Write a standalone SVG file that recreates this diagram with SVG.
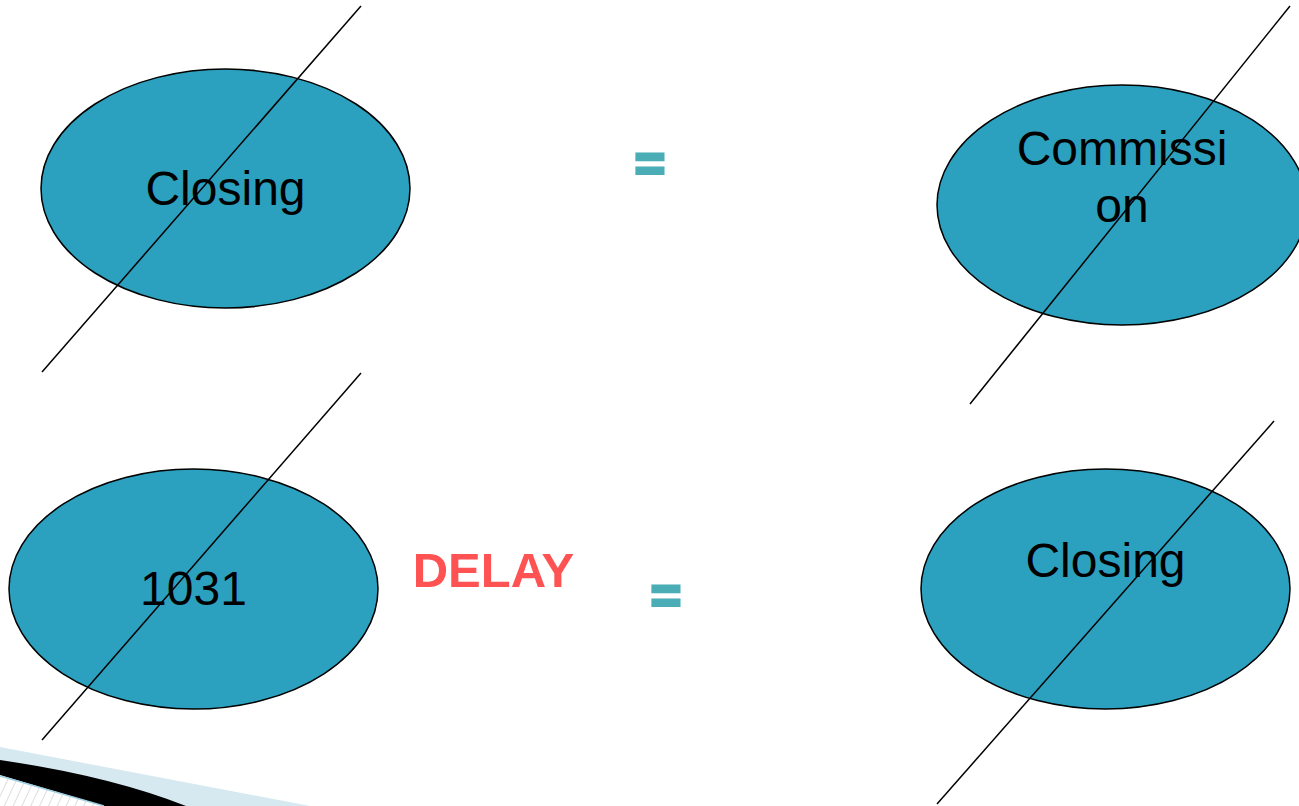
<svg xmlns="http://www.w3.org/2000/svg" width="1299" height="806" viewBox="0 0 1299 806">
<defs>
<style>
.node{fill:#2CA1BF;stroke:#000;stroke-width:1.5}
.lbl{font-family:"Liberation Sans",Arial,sans-serif;font-size:48px;fill:#000;text-anchor:middle}
.eq{font-family:"Liberation Sans",Arial,sans-serif;font-weight:bold;font-size:52px;fill:#4BADB6;stroke:#4BADB6;stroke-width:3;text-anchor:middle}
.slash{stroke:#000;stroke-width:1.5;fill:none}
</style>
<pattern id="hatch" width="8" height="8" patternUnits="userSpaceOnUse" patternTransform="rotate(25)">
<rect width="8" height="8" fill="#fff"/>
<line x1="0" y1="0" x2="0" y2="8" stroke="#c8c8c8" stroke-width="1.2"/>
</pattern>
</defs>
<rect width="1299" height="806" fill="#fff"/>
<g id="decor">
<polygon points="0,747 310,806 0,806" fill="#D6E9F0"/>
<polygon points="0,776 105,806 0,806" fill="url(#hatch)"/>
<path d="M0,760 Q110,776 186,806 L104,806 L0,775 Z" fill="#000"/>
<line x1="0" y1="776" x2="104" y2="806" stroke="#9CCFE0" stroke-width="1.5"/>
</g>
<g id="node-closing-top">
<ellipse class="node" cx="225.5" cy="188.5" rx="184.5" ry="119.5"/>
<text class="lbl" x="225.5" y="205">Closing</text>
</g>
<g id="node-commission">
<ellipse class="node" cx="1122" cy="205" rx="185" ry="120"/>
<text class="lbl" x="1122" y="165">Commissi</text>
<text class="lbl" x="1122" y="222">on</text>
</g>
<g id="node-1031">
<ellipse class="node" cx="193.5" cy="589" rx="184.5" ry="120"/>
<text class="lbl" x="193.5" y="605">1031</text>
</g>
<g id="node-closing-bottom">
<ellipse class="node" cx="1105.5" cy="589" rx="184.5" ry="120"/>
<text class="lbl" x="1105.5" y="577">Closing</text>
</g>
<g id="labels">
<text x="493.5" y="587" style="font-family:'Liberation Sans',Arial,sans-serif;font-weight:bold;font-size:49px;fill:#FF5252;text-anchor:middle">DELAY</text>
<text class="eq" x="650" y="180.5">=</text>
<text class="eq" x="666" y="613">=</text>
</g>
<g id="connectors">
<line class="slash" x1="42" y1="372" x2="361" y2="6"/>
<line class="slash" x1="970" y1="404" x2="1290" y2="6"/>
<line class="slash" x1="42" y1="740" x2="361" y2="373"/>
<line class="slash" x1="937" y1="804" x2="1274" y2="421"/>
</g>
</svg>
